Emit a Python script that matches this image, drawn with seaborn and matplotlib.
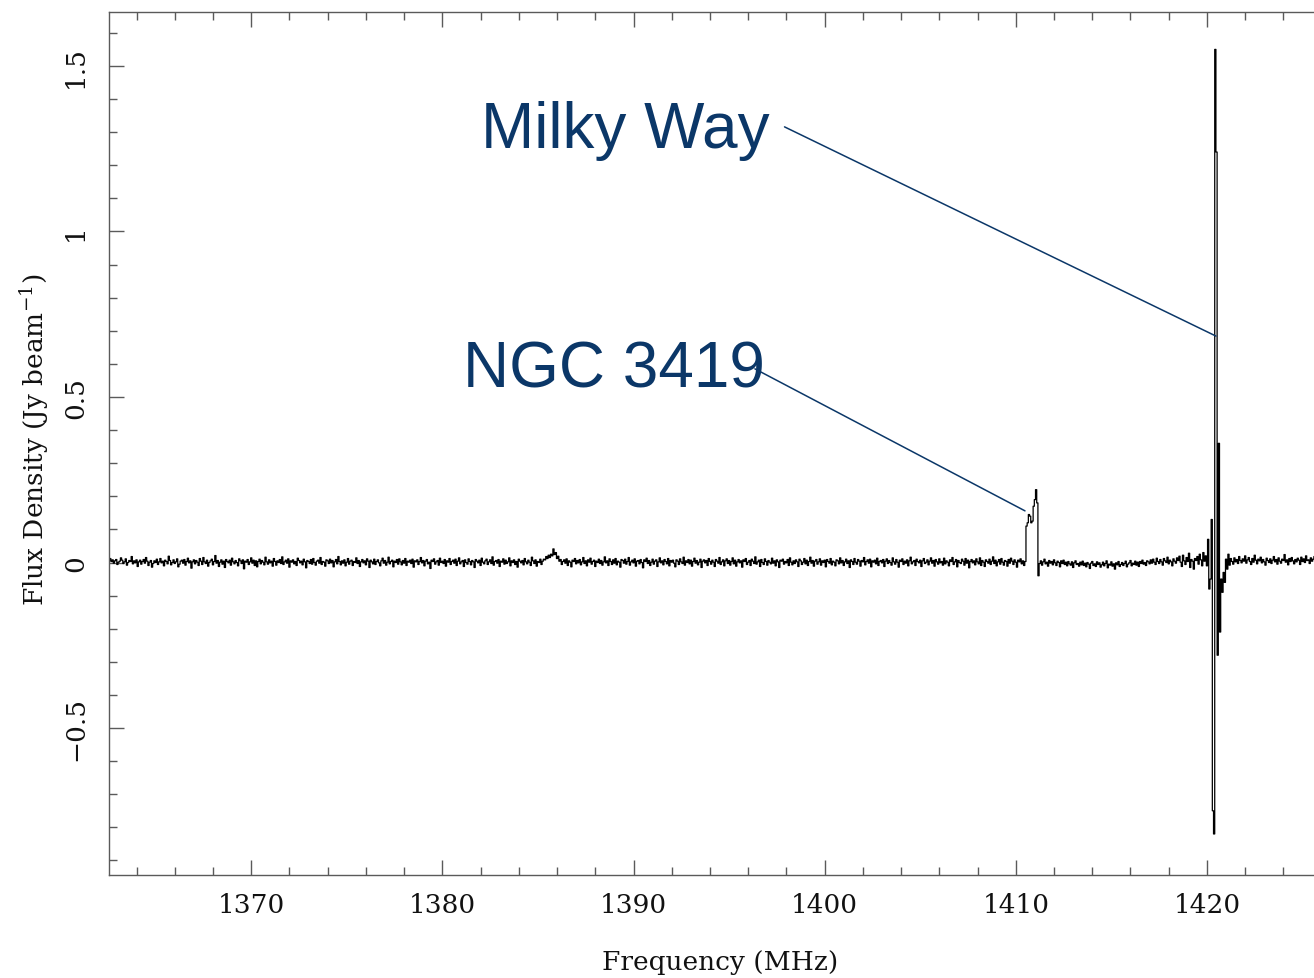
import numpy as np
import pandas as pd
import seaborn as sns
import matplotlib
matplotlib.use("Agg")
from matplotlib import pyplot as plt
from matplotlib.ticker import MultipleLocator, FuncFormatter


## Donnees du spectre (canaux de 0.0625 MHz, flux en mJy/beam)

chan_width = 0.0625

# bruit de 1362.5 a 1410.5 MHz (avec la petite bosse vers 1385.8 MHz)
start_a = 1362.5
noise_a = [
    10, 6, 12, 3, 8, -2, 5, 9, -6, 1, 4, 14, 7, -3, 2, 11, -8, 0, 6, 3, 18, -4, 5, -1, 8,
    -12, 2, 7, -5, 3, 9, -2, 15, 4, -9, 1, 6, -14, -3, 5, 0, 10, -6, 2, 12, -1, 4, -10, 7, 3,
    -4, 19, 6, -7, 0, 8, -3, 2, 11, -13, -5, 4, 7, -2, 9, -8, 3, 13, -1, 5, -17, 2, 8, -4, 6,
    1, -9, 12, 4, -6, 15, 2, -3, 7, -11, 0, 5, 10, -7, 3, 21, -2, 6, -12, 1, 8, -5, 4, -15, 9,
    3, -1, 7, -8, 13, 2, -4, 6, 0, -10, 11, 5, -3, 8, -19, 4, 1, 9, -6, 2, 14, -2, 7, -9, 5,
    -13, 3, 10, -4, 6, 1, -7, 16, 2, -5, 8, -1, 4, -11, 12, 3, -8, 5, 0, 9, -3, 17, -6, 2, 7,
    -2, 11, -14, 5, 1, 8, -4, 3, -9, 13, 6, -1, 4, -7, 10, 2, -16, 6, 3, -3, 9, -5, 12, 0, -8,
    4, 7, -2, 15, -6, 3, 1, -11, 8, 5, -3, 10, -1, 6, -13, 2, 9, -4, 18, 3, -7, 5, -2, 8, -10,
    1, 12, -5, 4, 7, -9, 3, 0, 14, -3, 6, -12, 2, 9, -1, 5, -7, 11, 4, -15, 7, 2, -4, 10, -6,
    3, 8, -1, -10, 5, 13, -2, 6, -8, 1, 16, -4, 3, 7, -13, 4, 0, 9, -5, 11, 2, -7, 6, -2, 12,
    -9, 4, 1, 7, -3, 10, -14, 5, 2, 8, -6, 3, 15, -1, 6, -10, 4, 9, -4, 1, -18, 7, 3, 11, -5,
    2, 6, -8, 13, 0, 4, -3, 9, -11, 5, 1, 12, -6, 3, 7, -2, 10, -9, 4, 14, -4, 2, 6, -12, 8,
    0, -5, 11, 3, -7, 6, 2, -15, 9, 4, -1, 7, -9, 13, 1, -4, 5, 10, -6, 2, 8, -3, 17, -8, 3,
    6, -2, 9, -12, 4, 1, 11, -5, 7, -3, 2, 14, -10, 5, 0, 8, -6, 3, -14, 10, 4, -1, 6, -7, 12,
    2, -4, 7, 1, -9, 16, 5, -3, 8, -11, 3, 0, 10, -6, 4, 10, 8, 18, 12, 22, 15, 25, 20, 41, 24,
    30, 12, 19, 4, 9, -6, 3, 8, -2, 11, -9, 5, 1, -13, 7, 3, 12, -4, 6, -1, 9, -7, 2, 15, -3,
    5, -10, 8, 1, 13, -5, 3, 7, -12, 4, 0, 10, -3, 6, -8, 2, 17, -1, 5, -9, 11, 3, -6, 8, -2,
    12, -7, 4, 1, -14, 9, 6, -2, 10, -5, 3, 15, -8, 2, 7, -1, 11, -11, 4, 6, -4, 9, 0, -16, 8,
    3, 13, -3, 6, -9, 1, 10, -5, 4, 8, -12, 2, 14, -1, 5, -7, 9, 3, -4, 12, -10, 6, 1, 7, -2,
    -13, 8, 4, -6, 11, 2, -3, 16, -8, 5, 0, 9, -4, 7, -11, 3, 13, -2, 6, -7, 1, 10, -15, 4, 8,
    -1, 6, -9, 12, 3, -5, 7, 1, -12, 9, 4, -2, 15, -6, 2, 8, -10, 5, 11, -3, 6, -8, 3, 14, -4,
    7, -11, 2, 9, -1, 5, -14, 8, 3, 12, -6, 1, 6, -9, 10, 4, -3, 17, -5, 2, 7, -12, 9, 0, -6,
    11, 3, -8, 6, 1, -4, 13, -2, 5, -10, 8, 2, -15, 7, 4, 10, -5, 3, -1, 9, -9, 14, 1, -7, 5,
    -3, 8, 2, -12, 10, 5, -6, 1, 12, -4, 7, -9, 3, 16, -2, 6, -11, 4, 9, -5, 2, 11, -8, 5, 0,
    7, -13, 9, 3, -2, 12, -7, 4, 1, -10, 8, 5, -4, 14, -1, 6, -9, 2, 10, -3, 5, -15, 8, 3, -6,
    12, 1, -5, 9, 4, -11, 6, 2, 15, -7, 3, 8, -2, 10, -13, 5, 1, 7, -4, 13, -9, 3, 6, -1, 9,
    -12, 4, 11, -3, 6, 0, -8, 14, 2, -5, 9, 1, -14, 7, 3, 11, -6, 4, -2, 8, -10, 5, 16, -4, 2,
    6, -9, 10, 3, -1, 7, -12, 5, 12, -3, 1, 8, -7, 4, 14, -2, 6, -11, 9, 2, -5, 11, -1, 3, -8,
    13, -4, 5, 1, -10, 8, 3, 15, -6, 2, 9, -13, 6, 0, -3, 10, 4, -8, 12, -2, 7, -16, 3, 9, -1,
    5, -7, 11, 2, -4, 14, -9, 6, 1, -12, 8, 3, -2, 10, -6, 4, 17, -3, 7, -10, 2, 9, -5, 12, 1,
    -8, 6, 3, -11, 9, -2, 13, 4, -6, 8, 1, -14, 7, 2, 11, -4, 5, -9, 3,
]

# raie de NGC 3419 (1410.5625 - 1411.125 MHz)
start_ngc = 1410.5625
ngc3419 = [110, 120, 145, 140, 120, 125, 170, 190, 220, 180]

# bruit de 1411.1875 a 1419.875 MHz
start_b = 1411.1875
noise_b = [
    -40, -3, 5, -8, 2, 10, -4, 1, -11, 6, -2, 3, -7, 8, -1, -9, 4, 0, -13, 5,
    -3, 7, -6, 1, -10, 3, -4, -8, 2, -15, -1, 5, -6, -3, -11, 1, -7, 4, -9, -2,
    -13, 0, -5, -18, -2, 3, -9, -4, -12, 2, -6, -1, -14, -7, 1, -10, -3, 5, -16, -5,
    -8, 2, -11, -4, -20, -1, -7, 3, -12, -6, 0, -9, -3, 4, -13, -5, -1, 6, -10, -2,
    -6, 4, -8, 1, -12, 3, -3, 7, -5, 0, -9, 5, 2, -4, 8, -2, 10, 1, -6, 13,
    3, -3, 9, 2, -8, 12, 5, 0, 16, -4, 7, 2, -10, 11, 4, -2, 14, 6, 19, 1,
    -12, 22, 5, -6, 15, 3, 28, -15, 9, 4, -20, 12, 6, 18, -5, 25, 8, -10, 30, 4,
]

# emission HI de la Voie Lactee (1419.9375 - 1420.75 MHz)
start_mw = 1419.9375
milky_way = [20, -10, 70, -80, -50, 130, -750, -820, 1550, 1240, -280, 360, -210, -50]

# bruit de 1420.8125 a 1425.625 MHz
start_c = 1420.8125
noise_c = [
    -90, -30, -60, 10, -20, 25, -8, 12, 3, -5, 14, 2, 9, -3, 18, 6, -1, 11, 4, 20,
    -2, 8, 15, 3, -6, 12, 1, 22, 7, -4, 10, 5, 16, -1, 9, 2, -8, 13, 6, 0,
    11, -3, 7, 18, 2, 9, -5, 14, 4, -2, 10, 6, 24, 1, 8, -7, 12, 3, 15, 5,
    -4, 9, 2, 13, 7, -6, 16, 3, 11, 0, 20, 6, 8, -3, 14, 4, 10, 18,
]


def segment(start, values):
    f = start + chan_width * np.arange(len(values))
    return pd.DataFrame({"freq": f, "flux": np.array(values) / 1000.0})


df = pd.concat([segment(start_a, noise_a), segment(start_ngc, ngc3419),
                segment(start_b, noise_b), segment(start_mw, milky_way),
                segment(start_c, noise_c)], ignore_index=True)

## Annotations (positions en donnees)
mw_label = "Milky Way"
ngc_label = "NGC 3419"
mw_text_xy = (1382.0, 1.255)
ngc_text_xy = (1381.1, 0.533)
mw_line = ((1397.9, 1.316), (1420.47, 0.684))
ngc_line = ((1396.35, 0.585), (1410.48, 0.156))
navy = "#0b3768"

## Figure
sns.set_style("ticks")
plt.rcParams["font.family"] = ["DejaVu Serif"]
plt.rcParams["mathtext.fontset"] = "dejavuserif"

fig = plt.figure(figsize=(13.14, 9.79), dpi=100)
ax = fig.add_axes([109 / 1314, 103 / 979, 1205 / 1314, 863 / 979])

sns.lineplot(data=df, x="freq", y="flux", ax=ax, color="black",
             linewidth=0.9, estimator=None, drawstyle="steps-mid")

ax.set_xlim(1362.56, 1425.6)
ax.set_ylim(-0.944, 1.663)

ax.xaxis.set_major_locator(MultipleLocator(10))
ax.xaxis.set_minor_locator(MultipleLocator(2))
ax.yaxis.set_major_locator(MultipleLocator(0.5))
ax.yaxis.set_minor_locator(MultipleLocator(0.1))
ax.yaxis.set_major_formatter(FuncFormatter(lambda v, p: ("%g" % v).replace("-", "\u2212")))

spine_col = "#5a5a5a"
for s in ["left", "bottom", "top"]:
    ax.spines[s].set_color(spine_col)
    ax.spines[s].set_linewidth(1.0)
ax.spines["right"].set_visible(False)

ax.tick_params(which="both", direction="in", top=True, right=False,
               color=spine_col, width=1.0)
ax.tick_params(which="major", length=11)
ax.tick_params(which="minor", length=5.5)
ax.tick_params(axis="x", which="major", pad=12, labelsize=19, labelcolor="#111111")
ax.tick_params(axis="y", which="major", pad=15, labelsize=19, labelcolor="#111111")
plt.setp(ax.get_yticklabels(), rotation=90, va="center")

ax.set_xlabel("Frequency (MHz)", fontsize=19, color="#111111")
ax.set_ylabel("Flux Density (Jy beam$^{-1}$)", fontsize=19, color="#111111")
ax.xaxis.set_label_coords(0.507, -0.0997)
ax.xaxis.label.set_va("center")
ax.yaxis.set_label_coords(-0.0614, 0.505)
ax.yaxis.label.set_va("center")

for (p0, p1) in [mw_line, ngc_line]:
    ax.annotate("", xy=p1, xytext=p0,
                arrowprops=dict(arrowstyle="-", color=navy, lw=1.1,
                                shrinkA=0, shrinkB=0))

ax.text(*mw_text_xy, mw_label, color=navy, fontsize=46,
        family=["Liberation Sans", "DejaVu Sans"], ha="left", va="baseline")
ax.text(*ngc_text_xy, ngc_label, color=navy, fontsize=46,
        family=["Liberation Sans", "DejaVu Sans"], ha="left", va="baseline")

fig.savefig("out.png", dpi=100)
